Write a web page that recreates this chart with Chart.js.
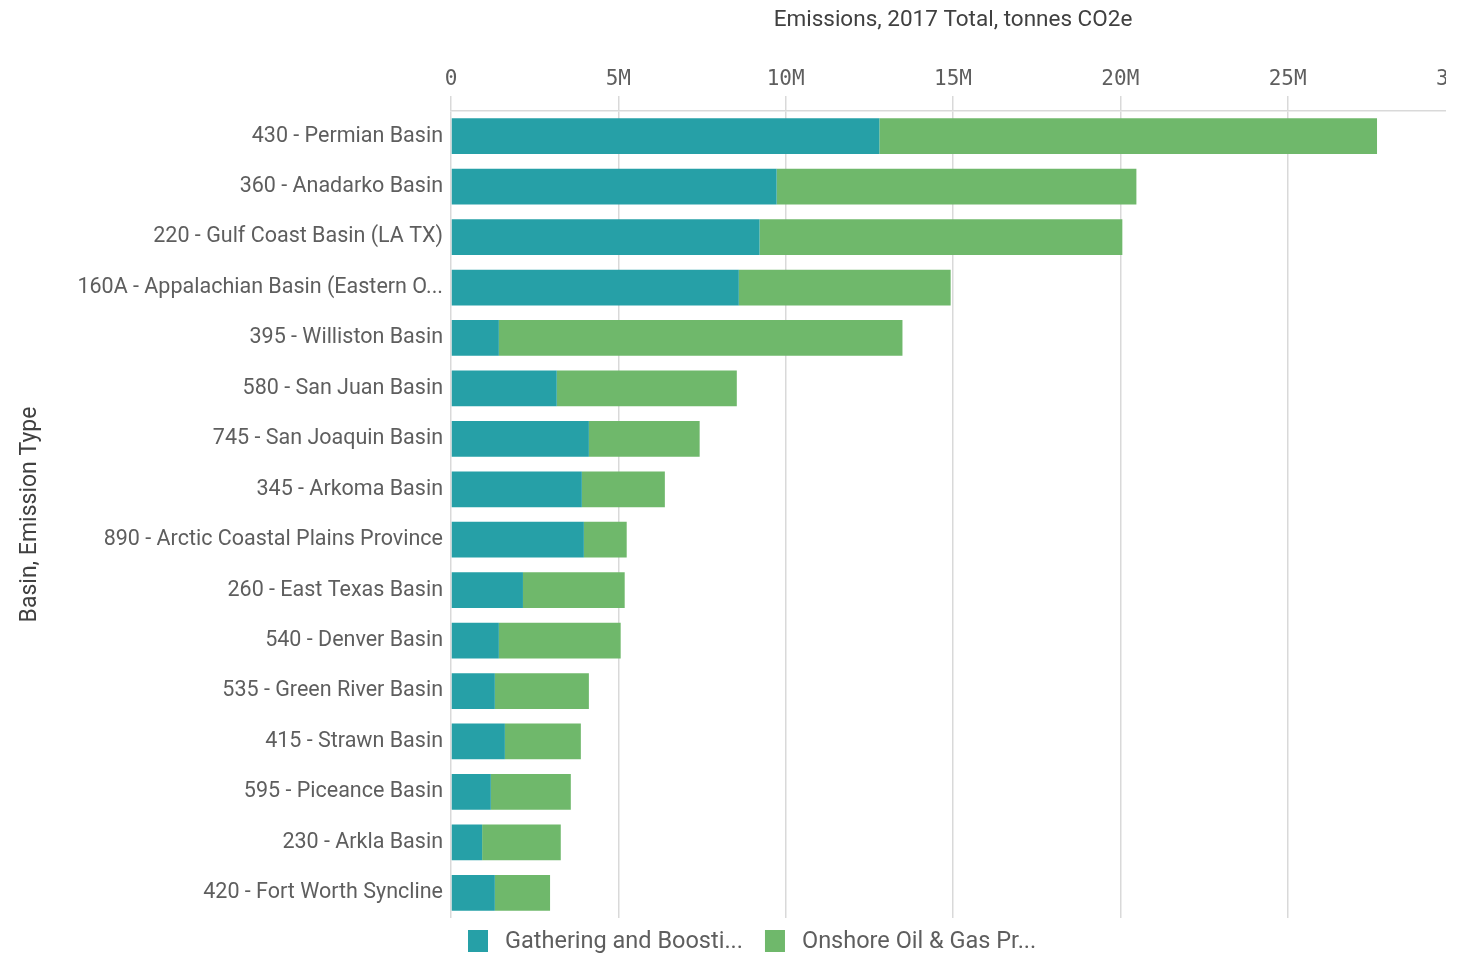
<!DOCTYPE html>
<html>
<head>
<meta charset="utf-8">
<script src="https://cdn.jsdelivr.net/npm/chart.js@4.4.1/dist/chart.umd.min.js"></script>
<style>
  html, body { margin: 0; padding: 0; background: #ffffff; overflow: hidden; }
  #wrap { width: 1460px; height: 954px; position: relative; }
  /* plot viewport ends just past the last full gridline */
  #clip { width: 1446px; height: 954px; overflow: hidden; }
</style>
</head>
<body>
<div id="wrap"><div id="clip"><canvas id="chart" width="1460" height="954"></canvas></div></div>
<script>
// Basins, sorted by total emissions
const basins = [
  '430 - Permian Basin',
  '360 - Anadarko Basin',
  '220 - Gulf Coast Basin (LA TX)',
  '160A - Appalachian Basin (Eastern O...',
  '395 - Williston Basin',
  '580 - San Juan Basin',
  '745 - San Joaquin Basin',
  '345 - Arkoma Basin',
  '890 - Arctic Coastal Plains Province',
  '260 - East Texas Basin',
  '540 - Denver Basin',
  '535 - Green River Basin',
  '415 - Strawn Basin',
  '595 - Piceance Basin',
  '230 - Arkla Basin',
  '420 - Fort Worth Syncline'
];

// Emission types (legend shows them shortened)
const emissionTypes = ['Gathering and Boosting', 'Onshore Oil & Gas Production'];
const legendLabels = ['Gathering and Boosti...', 'Onshore Oil & Gas Pr...'];

// 2017 totals, tonnes CO2e
const gatheringBoosting = [
  12800000, 9730000, 9220000, 8600000, 1430000, 3160000, 4120000, 3910000,
  3970000, 2150000, 1430000, 1310000, 1610000, 1190000, 930000, 1310000
];
const onshoreProduction = [
  14870000, 10750000, 10840000, 6330000, 12060000, 5380000, 3310000, 2480000,
  1280000, 3040000, 3640000, 2810000, 2270000, 2390000, 2350000, 1650000
];

// Axis ticks
const xTickStep = 5000000;
const xMax = 30000000;

const colors = ['#26a0a7', '#6fb86b'];
const textGray = '#5e5e5e';
const titleGray = '#404040';
const gridGray = '#d9d9d9';
const sansFamily = 'Roboto, "Liberation Sans", sans-serif';

// Legend drawn under the plot, starting just right of the value axis origin
const bottomLegend = {
  id: 'bottomLegend',
  afterDraw(chart) {
    const ctx = chart.ctx;
    const area = chart.chartArea;
    ctx.save();
    ctx.font = '23.5px ' + sansFamily;
    ctx.textBaseline = 'middle';
    ctx.textAlign = 'left';
    let x = area.left + 17;
    const y = area.bottom + 12;
    legendLabels.forEach((label, i) => {
      ctx.fillStyle = colors[i];
      ctx.fillRect(x, y, 20, 22);
      ctx.fillStyle = textGray;
      ctx.fillText(label, x + 37, y + 12);
      x += 37 + ctx.measureText(label).width + 22;
    });
    ctx.restore();
  }
};

new Chart(document.getElementById('chart'), {
  type: 'bar',
  data: {
    labels: basins,
    datasets: [
      { label: emissionTypes[0], data: gatheringBoosting, backgroundColor: colors[0] },
      { label: emissionTypes[1], data: onshoreProduction, backgroundColor: colors[1] }
    ]
  },
  options: {
    indexAxis: 'y',
    responsive: false,
    animation: false,
    devicePixelRatio: 1,
    layout: { padding: { top: 0, right: 5, bottom: 36, left: 16 } },
    datasets: { bar: { categoryPercentage: 0.71, barPercentage: 1.0, borderWidth: 0 } },
    plugins: {
      legend: { display: false },
      tooltip: { enabled: false }
    },
    scales: {
      x: {
        position: 'top',
        stacked: true,
        min: 0,
        max: xMax,
        afterFit(scale) { scale.height = 111; scale.paddingRight = 0; scale.paddingLeft = 0; },
        ticks: {
          stepSize: xTickStep,
          color: textGray,
          padding: 4,
          font: { family: '"DejaVu Sans Mono", monospace', size: 21 },
          callback: v => v === 0 ? '0' : (v / 1000000) + 'M'
        },
        grid: {
          color: ctx => (ctx.tick && ctx.tick.value >= xMax) ? 'rgba(0,0,0,0)' : gridGray,
          lineWidth: 1.5,
          tickLength: 15,
          drawOnChartArea: true
        },
        border: { display: true, color: gridGray, width: 1.5 },
        title: {
          display: true,
          text: 'Emissions, 2017 Total, tonnes CO2e',
          color: titleGray,
          font: { family: sansFamily, size: 22.5 },
          padding: { top: 7, bottom: 0 }
        }
      },
      y: {
        stacked: true,
        afterFit(scale) { scale.width = 435; },
        ticks: {
          color: textGray,
          padding: 0,
          autoSkip: false,
          font: { family: sansFamily, size: 21.5 }
        },
        grid: { display: false, tickLength: 8 },
        border: { display: false },
        title: {
          display: true,
          text: 'Basin, Emission Type',
          color: titleGray,
          font: { family: sansFamily, size: 23 },
          padding: { top: 0, bottom: 0 }
        }
      }
    }
  },
  plugins: [bottomLegend]
});
</script>
</body>
</html>
